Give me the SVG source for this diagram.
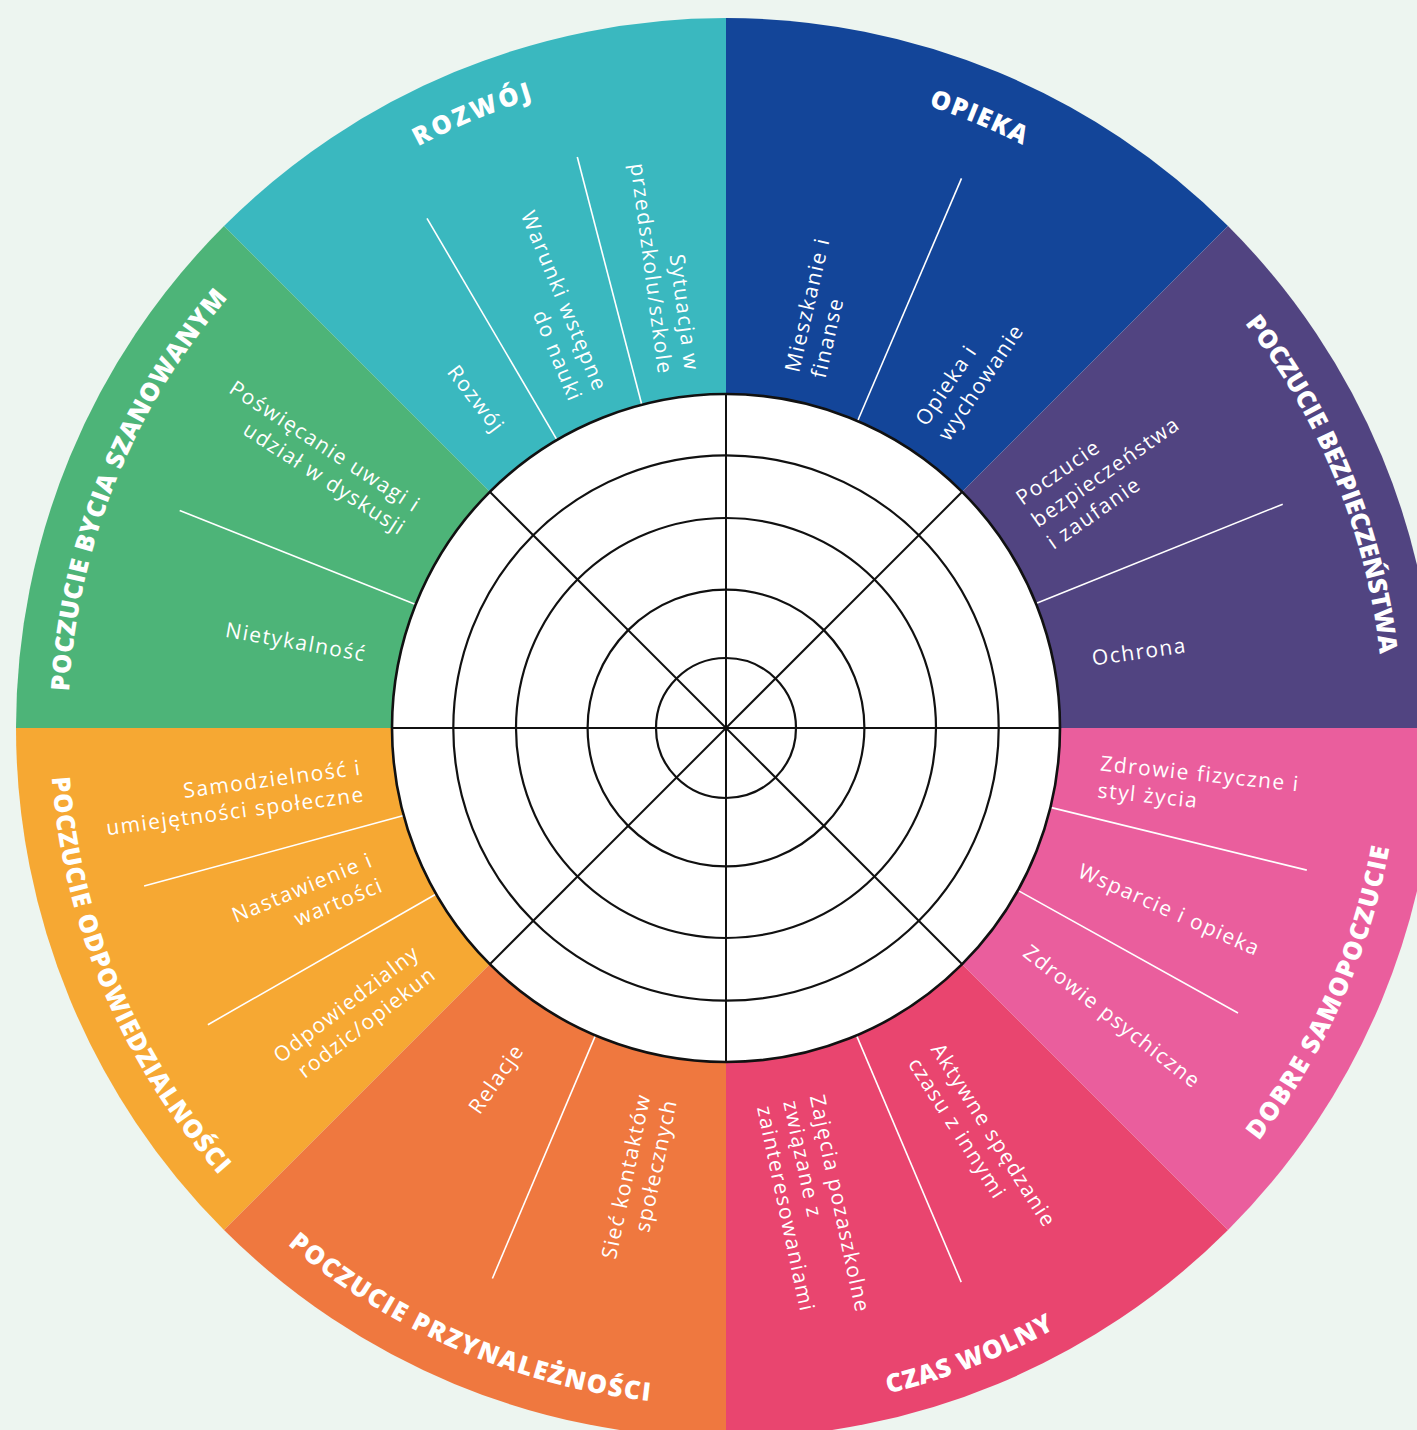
<svg xmlns="http://www.w3.org/2000/svg" xmlns:xlink="http://www.w3.org/1999/xlink" width="1417" height="1430" viewBox="0 0 1417 1430">
<style>
.title{font-family:"Open Sans","DejaVu Sans",sans-serif;font-weight:800;font-size:25.5px;fill:#fff;}
.lbl{font-family:"Open Sans","DejaVu Sans",sans-serif;font-weight:500;font-size:21px;fill:#fff;letter-spacing:1.5px;}
.dv{stroke:#fff;stroke-width:1.6;fill:none;}
.ring{fill:none;stroke:#111;stroke-width:2.2;}
.spoke{stroke:#111;stroke-width:2;}
</style>
<defs>
<path id="p-opieka" d="M640.7,79.6 A654,654 0 0 1 1244.9,329.8"/>
<path id="p-rozwoj" d="M204.0,327.4 A658,658 0 0 1 811.9,75.7"/>
<path id="p-bezp" d="M1129.3,208.1 A658,658 0 0 1 1377.9,817.3"/>
<path id="p-bycia" d="M74.4,819.6 A658,658 0 0 1 320.9,209.5"/>
<path id="p-odp" d="M55.3,643.3 A676,676 0 0 0 317.3,1266.4"/>
<path id="p-przyn" d="M182.1,1131.9 A677.5,677.5 0 0 0 803.8,1401.0"/>
<path id="p-czas" d="M621.2,1404.9 A685,685 0 0 0 1259.8,1157.2"/>
<path id="p-dobre" d="M1122.2,1273.3 A674,674 0 0 0 1396.3,657.6"/>
</defs>
<rect width="1417" height="1430" fill="#EDF5F0"/>

<g id="opieka">
<path d="M726,728 L1228,226 A710,710 0 0 0 726,18 Z" fill="#134599"/>
<text class="title"><textPath xlink:href="#p-opieka" href="#p-opieka" startOffset="50%" text-anchor="middle" textLength="102" lengthAdjust="spacing">OPIEKA</textPath></text>
<text class="lbl" text-anchor="start" transform="translate(806.7,375) rotate(-77)"><tspan x="0" y="-8">Mieszkanie i</tspan><tspan x="0" y="19">finanse</tspan></text>
<text class="lbl" text-anchor="start" transform="translate(933.2,431.7) rotate(-56)"><tspan x="0" y="-8">Opieka i</tspan><tspan x="0" y="19">wychowanie</tspan></text>
</g>

<g id="rozwoj">
<path d="M726,728 L726,18 A710,710 0 0 0 224,226 Z" fill="#3AB8BF"/>
<text class="title"><textPath xlink:href="#p-rozwoj" href="#p-rozwoj" startOffset="50%" text-anchor="middle" textLength="124" lengthAdjust="spacing">ROZWÓJ</textPath></text>
<text class="lbl" text-anchor="end" transform="translate(677,373) rotate(82.5)"><tspan x="0" y="-8">Sytuacja w</tspan><tspan x="0" y="19">przedszkolu/szkole</tspan></text>
<text class="lbl" text-anchor="end" transform="translate(587,396) rotate(67.5)"><tspan x="0" y="-8">Warunki wstępne</tspan><tspan x="0" y="19">do nauki</tspan></text>
<text class="lbl" text-anchor="end" transform="translate(499,431) rotate(52.5)"><tspan x="0" y="6">Rozwój</tspan></text>
</g>

<g id="bycia-szanowanym">
<path d="M726,728 L224,226 A710,710 0 0 0 16,728 Z" fill="#4DB478"/>
<text class="title"><textPath xlink:href="#p-bycia" href="#p-bycia" startOffset="50%" text-anchor="middle" textLength="432" lengthAdjust="spacing">POCZUCIE BYCIA SZANOWANYM</textPath></text>
<text class="lbl" text-anchor="end" transform="translate(410,520) rotate(33)"><tspan x="0" y="-8">Poświęcanie uwagi i</tspan><tspan x="0" y="19">udział w dyskusji</tspan></text>
<text class="lbl" text-anchor="end" transform="translate(366,655.6) rotate(10)"><tspan x="0" y="6">Nietykalność</tspan></text>
</g>

<g id="odpowiedzialnosci">
<path d="M726,728 L16,728 A710,710 0 0 0 224,1230 Z" fill="#F6A833"/>
<text class="title"><textPath xlink:href="#p-odp" href="#p-odp" startOffset="50%" text-anchor="middle" textLength="439" lengthAdjust="spacing">POCZUCIE ODPOWIEDZIALNOŚCI</textPath></text>
<text class="lbl" text-anchor="end" transform="translate(363,782.5) rotate(-7.5)"><tspan x="0" y="-8">Samodzielność i</tspan><tspan x="0" y="19">umiejętności społeczne</tspan></text>
<text class="lbl" text-anchor="end" transform="translate(377.5,873) rotate(-22.5)"><tspan x="0" y="-8">Nastawienie i</tspan><tspan x="0" y="19">wartości</tspan></text>
<text class="lbl" text-anchor="end" transform="translate(426,962) rotate(-37.5)"><tspan x="0" y="-8">Odpowiedzialny</tspan><tspan x="0" y="19">rodzic/opiekun</tspan></text>
</g>

<g id="przynaleznosci">
<path d="M726,728 L224,1230 A710,710 0 0 0 726,1438 Z" fill="#EF783F"/>
<text class="title"><textPath xlink:href="#p-przyn" href="#p-przyn" startOffset="50%" text-anchor="middle" textLength="400" lengthAdjust="spacing">POCZUCIE PRZYNALEŻNOŚCI</textPath></text>
<text class="lbl" text-anchor="end" transform="translate(520,1047) rotate(-55)"><tspan x="0" y="6">Relacje</tspan></text>
<text class="lbl" text-anchor="end" transform="translate(658.5,1097) rotate(-78)"><tspan x="0" y="-8">Sieć kontaktów</tspan><tspan x="0" y="19">społecznych</tspan></text>
</g>

<g id="czas-wolny">
<path d="M726,728 L726,1438 A710,710 0 0 0 1228,1230 Z" fill="#E9456F"/>
<text class="title"><textPath xlink:href="#p-czas" href="#p-czas" startOffset="50%" text-anchor="middle" textLength="179" lengthAdjust="spacing">CZAS WOLNY</textPath></text>
<text class="lbl" text-anchor="start" transform="translate(788.7,1101) rotate(78)"><tspan x="0" y="-21.5">Zajęcia pozaszkolne</tspan><tspan x="0" y="5.5">związane z</tspan><tspan x="0" y="32.5">zainteresowaniami</tspan></text>
<text class="lbl" text-anchor="start" transform="translate(923.5,1053.6) rotate(57.5)"><tspan x="0" y="-8">Aktywne spędzanie</tspan><tspan x="0" y="19">czasu z innymi</tspan></text>
</g>

<g id="dobre-samopoczucie">
<path d="M726,728 L1228,1230 A710,710 0 0 0 1436,728 Z" fill="#EA5E9D"/>
<text class="title"><textPath xlink:href="#p-dobre" href="#p-dobre" startOffset="50%" text-anchor="middle" textLength="324" lengthAdjust="spacing">DOBRE SAMOPOCZUCIE</textPath></text>
<text class="lbl" text-anchor="start" transform="translate(1099,778.5) rotate(6)"><tspan x="0" y="-8">Zdrowie fizyczne i</tspan><tspan x="0" y="19">styl życia</tspan></text>
<text class="lbl" text-anchor="start" transform="translate(1079,871) rotate(24)"><tspan x="0" y="6">Wsparcie i opieka</tspan></text>
<text class="lbl" text-anchor="start" transform="translate(1025.5,950.5) rotate(38)"><tspan x="0" y="6">Zdrowie psychiczne</tspan></text>
</g>

<g id="bezpieczenstwa">
<path d="M726,728 L1436,728 A710,710 0 0 0 1228,226 Z" fill="#514481"/>
<text class="title"><textPath xlink:href="#p-bezp" href="#p-bezp" startOffset="50%" text-anchor="middle" textLength="362" lengthAdjust="spacing">POCZUCIE BEZPIECZEŃSTWA</textPath></text>
<text class="lbl" text-anchor="start" transform="translate(1034.8,523.5) rotate(-35)"><tspan x="0" y="-21.5">Poczucie</tspan><tspan x="0" y="5.5">bezpieczeństwa</tspan><tspan x="0" y="32.5">i zaufanie</tspan></text>
<text class="lbl" text-anchor="start" transform="translate(1092.2,659.6) rotate(-8)"><tspan x="0" y="6">Ochrona</tspan></text>
</g>

<g id="connectors">
<line class="dv" x1="641.8" y1="404.8" x2="577.3" y2="157.0"/>
<line class="dv" x1="557.0" y1="439.9" x2="427.0" y2="218.3"/>
<line class="dv" x1="857.6" y1="421.0" x2="961.5" y2="178.4"/>
<line class="dv" x1="1035.9" y1="603.4" x2="1282.7" y2="504.2"/>
<line class="dv" x1="415.7" y1="604.5" x2="179.7" y2="510.6"/>
<line class="dv" x1="403.7" y1="815.6" x2="144.1" y2="886.1"/>
<line class="dv" x1="436.2" y1="894.0" x2="207.9" y2="1024.7"/>
<line class="dv" x1="595.5" y1="1035.4" x2="492.4" y2="1278.5"/>
<line class="dv" x1="856.5" y1="1035.4" x2="961.2" y2="1282.1"/>
<line class="dv" x1="1050.4" y1="807.4" x2="1306.8" y2="870.1"/>
<line class="dv" x1="1017.8" y1="890.4" x2="1238.0" y2="1013.0"/>
</g>

<g id="score-grid">
<circle cx="726" cy="728" r="334" fill="#fff" stroke="#111" stroke-width="2.6"/>
<circle class="ring" cx="726" cy="728" r="272.7"/>
<circle class="ring" cx="726" cy="728" r="210"/>
<circle class="ring" cx="726" cy="728" r="138.4"/>
<circle class="ring" cx="726" cy="728" r="70"/>
<line class="spoke" x1="392" y1="728" x2="1060" y2="728"/>
<line class="spoke" x1="726" y1="394" x2="726" y2="1062"/>
<line class="spoke" x1="489.8" y1="491.8" x2="962.2" y2="964.2"/>
<line class="spoke" x1="962.2" y1="491.8" x2="489.8" y2="964.2"/>
</g>
</svg>
